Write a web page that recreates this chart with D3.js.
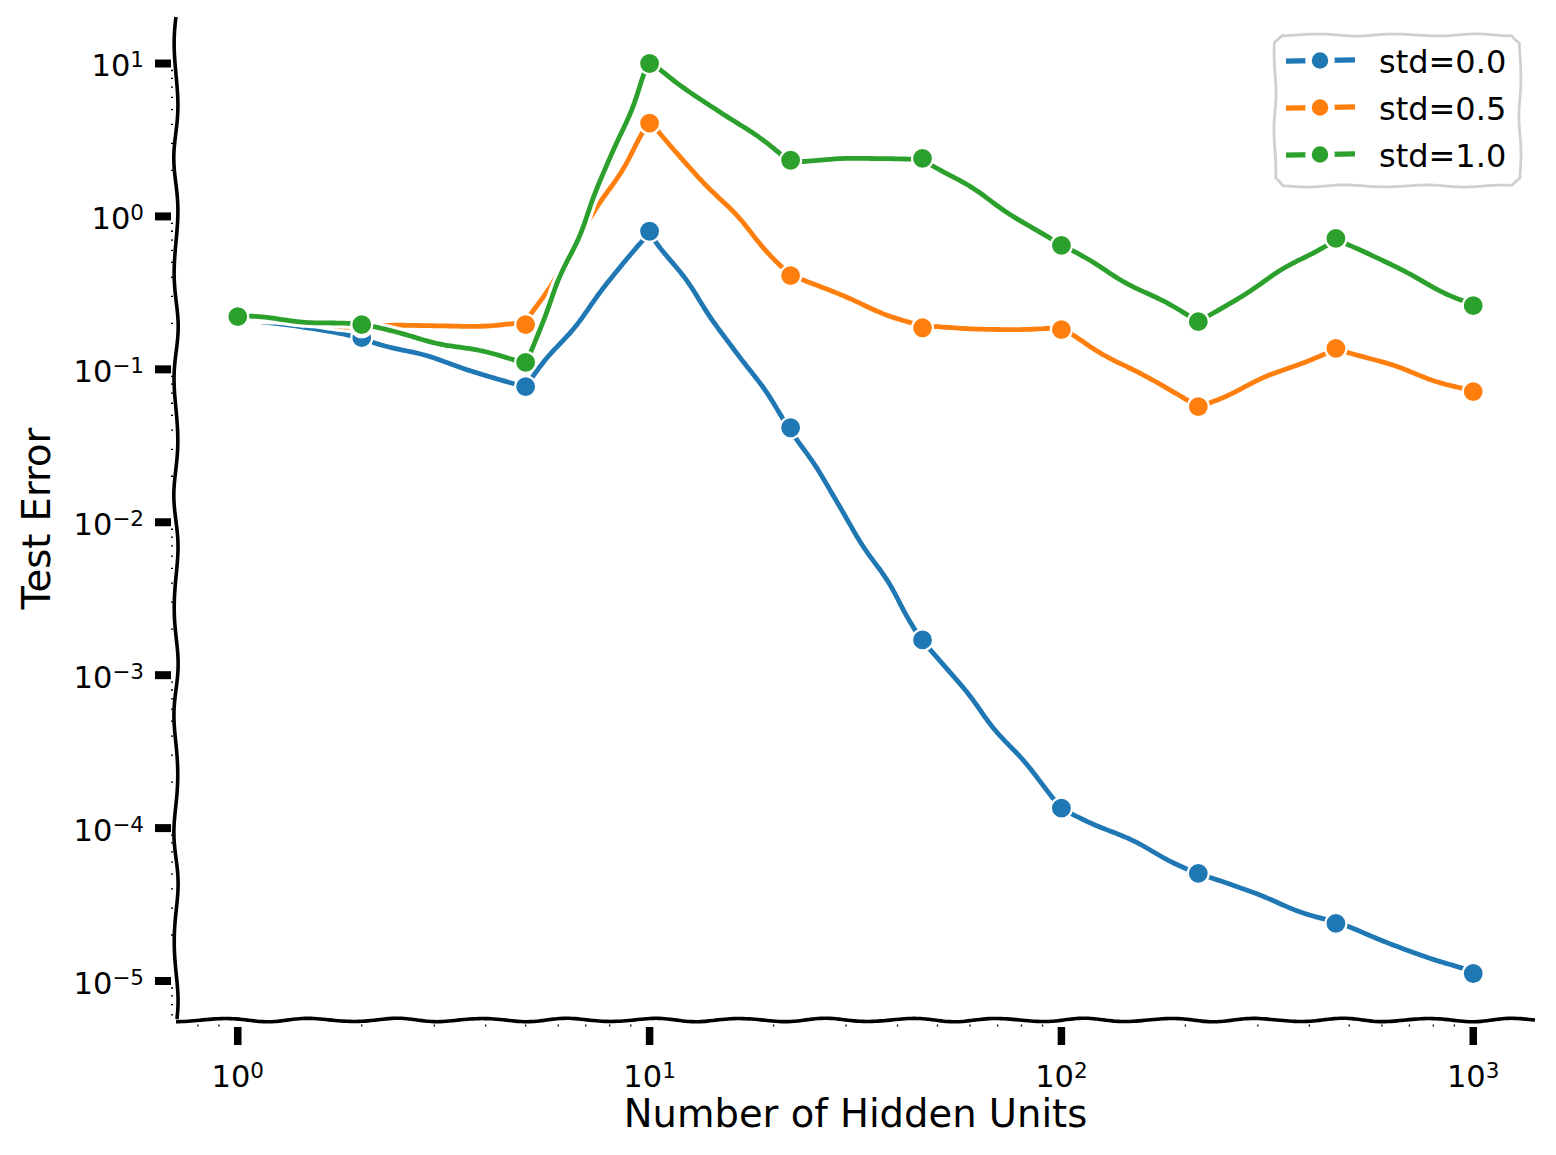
<!DOCTYPE html>
<html>
<head>
<meta charset="utf-8">
<script src="https://cdn.jsdelivr.net/npm/d3@7"></script>
<style>
  body { margin: 0; background: #fff; }
  svg { display: block; font-family: "DejaVu Sans", sans-serif; }
</style>
</head>
<body>
<div id="chart"></div>
<script>
// values (log-log)
const hiddenUnits = [1, 2, 5, 10, 22, 46, 100, 215, 464, 1000];
const errStd00 = [0.221, 0.161, 0.077, 0.80, 0.0415, 0.0017, 1.35e-4, 5.06e-5, 2.38e-5, 1.12e-5];
const errStd05 = [0.221, 0.19, 0.196, 4.07, 0.41, 0.187, 0.182, 0.057, 0.137, 0.0714];
const errStd10 = [0.221, 0.196, 0.111, 10.0, 2.33, 2.40, 0.646, 0.205, 0.718, 0.261];
const seriesNames = ["std=0.0", "std=0.5", "std=1.0"];
const seriesColors = ["#1f77b4", "#ff7f0e", "#2ca02c"];
const xTickExps = [0, 1, 2, 3];
const yTickExps = [-5, -4, -3, -2, -1, 0, 1];

const width = 1556, height = 1155;
const box = {left: 176, right: 1535, top: 18, bottom: 1019};

const svg = d3.select("#chart").append("svg")
    .attr("width", width).attr("height", height);

// matplotlib style 5% margins in log space
function padLog(ext) {
    const a = Math.log10(ext[0]), b = Math.log10(ext[1]), p = (b - a) * 0.05;
    return [Math.pow(10, a - p), Math.pow(10, b + p)];
}
const allErr = errStd00.concat(errStd05, errStd10);
const x = d3.scaleLog().domain(padLog(d3.extent(hiddenUnits))).range([box.left, box.right]);
const y = d3.scaleLog().domain(padLog(d3.extent(allErr))).range([box.bottom, box.top]);

// hand-drawn wobble: resample a polyline and push it sideways a little
function wobble(pts, amp, wl, phase, mix = 0.15) {
    const out = [];
    let s = 0;
    for (let i = 0; i < pts.length - 1; i++) {
        const [x0, y0] = pts[i], [x1, y1] = pts[i + 1];
        const dx = x1 - x0, dy = y1 - y0, len = Math.hypot(dx, dy);
        const nx = -dy / len, ny = dx / len;
        const n = Math.max(1, Math.ceil(len / 3));
        for (let k = 0; k < n; k++) {
            const t = k / n, st = s + t * len;
            const off = amp * ((1 - mix) * Math.sin(2 * Math.PI * st / wl + phase)
                + mix * Math.sin(2 * Math.PI * st / (wl * 0.61) + phase * 2.3));
            out.push([x0 + dx * t + nx * off, y0 + dy * t + ny * off]);
        }
        s += len;
    }
    out.push(pts[pts.length - 1]);
    return out;
}
const line = d3.line().curve(d3.curveBasis);

// spines
svg.append("path")
    .attr("d", line(wobble([[box.left, box.bottom], [box.left, box.top - 1]], 2.2, 112, 0.4, 0.1)))
    .attr("fill", "none").attr("stroke", "#000").attr("stroke-width", 3.6);
svg.append("path")
    .attr("d", line(wobble([[box.left, box.bottom + 1], [box.right, box.bottom + 1]], 1.8, 86, 1.2, 0.1)))
    .attr("fill", "none").attr("stroke", "#000").attr("stroke-width", 3.6);

// y ticks
const yMinor = [];
for (let e = -6; e <= 1; e++) for (let k = 2; k <= 9; k++) {
    const v = k * Math.pow(10, e);
    if (v > y.domain()[0] && v < y.domain()[1]) yMinor.push(v);
}
svg.append("g").selectAll("line").data(yMinor).join("line")
    .attr("x1", 171).attr("x2", 173)
    .attr("y1", d => y(d)).attr("y2", d => y(d))
    .attr("stroke", "#000").attr("stroke-width", 1.3);
svg.append("g").selectAll("line").data(yTickExps).join("line")
    .attr("x1", 155).attr("x2", 171)
    .attr("y1", d => y(Math.pow(10, d))).attr("y2", d => y(Math.pow(10, d)))
    .attr("stroke", "#000").attr("stroke-width", 8);

const supLabel = (sel, d) => {
    sel.append("tspan").text("10");
    sel.append("tspan").attr("font-size", 21.5).attr("dy", -9)
        .text(d < 0 ? "\u2212" + (-d) : String(d));
};
svg.append("g").selectAll("text").data(yTickExps).join("text")
    .attr("x", 144).attr("y", d => y(Math.pow(10, d)) + 12.5)
    .attr("text-anchor", "end").attr("font-size", 30.5)
    .each(function(d) { supLabel(d3.select(this), d); });

// x ticks
const xMinor = [];
for (let e = -1; e <= 3; e++) for (let k = 2; k <= 9; k++) {
    const v = k * Math.pow(10, e);
    if (v > x.domain()[0] && v < x.domain()[1]) xMinor.push(v);
}
svg.append("g").selectAll("line").data(xMinor).join("line")
    .attr("x1", d => x(d)).attr("x2", d => x(d))
    .attr("y1", 1024.5).attr("y2", 1026.5)
    .attr("stroke", "#000").attr("stroke-width", 1.3);
svg.append("g").selectAll("line").data(xTickExps).join("line")
    .attr("x1", d => x(Math.pow(10, d))).attr("x2", d => x(Math.pow(10, d)))
    .attr("y1", 1027).attr("y2", 1045)
    .attr("stroke", "#000").attr("stroke-width", 7.5);
svg.append("g").selectAll("text").data(xTickExps).join("text")
    .attr("x", d => x(Math.pow(10, d))).attr("y", 1087)
    .attr("text-anchor", "middle").attr("font-size", 30.5)
    .each(function(d) { supLabel(d3.select(this), d); });

// axis labels
svg.append("text").attr("x", (box.left + box.right) / 2).attr("y", 1127)
    .attr("text-anchor", "middle").attr("font-size", 38.5)
    .text("Number of Hidden Units");
svg.append("text")
    .attr("transform", `translate(50,${(box.top + box.bottom) / 2}) rotate(-90)`)
    .attr("text-anchor", "middle").attr("font-size", 38.5)
    .text("Test Error");

// series
const series = [errStd00, errStd05, errStd10].map((vals, i) => ({
    name: seriesNames[i], color: seriesColors[i],
    pts: hiddenUnits.map((u, j) => [x(u), y(vals[j])])
}));

const dataLine = d3.line();
series.forEach((s, i) => {
    const g = svg.append("g");
    const d = dataLine(wobble(s.pts, 1.5, 120, i * 1.7 + 0.5, 0.25));
    g.append("path").attr("d", d).attr("fill", "none")
        .attr("stroke", "#fff").attr("stroke-width", 11)
        .attr("stroke-linejoin", "round").attr("stroke-linecap", "round");
    g.append("path").attr("d", d).attr("fill", "none")
        .attr("stroke", s.color).attr("stroke-width", 4.8)
        .attr("stroke-linejoin", "round").attr("stroke-linecap", "round");
    g.selectAll("circle").data(s.pts).join("circle")
        .attr("cx", p => p[0]).attr("cy", p => p[1]).attr("r", 10.5)
        .attr("fill", s.color).attr("stroke", "#fff").attr("stroke-width", 2.2);
});

// legend
const lg = svg.append("g");
const lb = {x0: 1275, y0: 35, x1: 1520, y1: 186, r: 8};
const boxPts = [[lb.x0 + lb.r, lb.y0], [lb.x1 - lb.r, lb.y0], [lb.x1, lb.y0 + lb.r],
    [lb.x1, lb.y1 - lb.r], [lb.x1 - lb.r, lb.y1], [lb.x0 + lb.r, lb.y1],
    [lb.x0, lb.y1 - lb.r], [lb.x0, lb.y0 + lb.r], [lb.x0 + lb.r, lb.y0]];
lg.append("path")
    .attr("d", d3.line().curve(d3.curveCatmullRomClosed)(wobble(boxPts, 1.1, 80, 2.1, 0.1)))
    .attr("fill", "#fff").attr("fill-opacity", 0.8)
    .attr("stroke", "#d0d0d0").attr("stroke-width", 2.8);

const rowY = [60.5, 107.5, 154.5];
series.forEach((s, i) => {
    const yy = rowY[i];
    lg.append("line").attr("x1", 1286).attr("x2", 1355).attr("y1", yy + 0.6).attr("y2", yy - 0.6)
        .attr("stroke", s.color).attr("stroke-width", 5.2);
    lg.append("circle").attr("cx", 1320).attr("cy", yy).attr("r", 11.5)
        .attr("fill", s.color).attr("stroke", "#fff").attr("stroke-width", 6.5);
    lg.append("text").attr("x", 1379).attr("y", yy + 12)
        .attr("font-size", 32).text(s.name);
});
</script>
</body>
</html>
